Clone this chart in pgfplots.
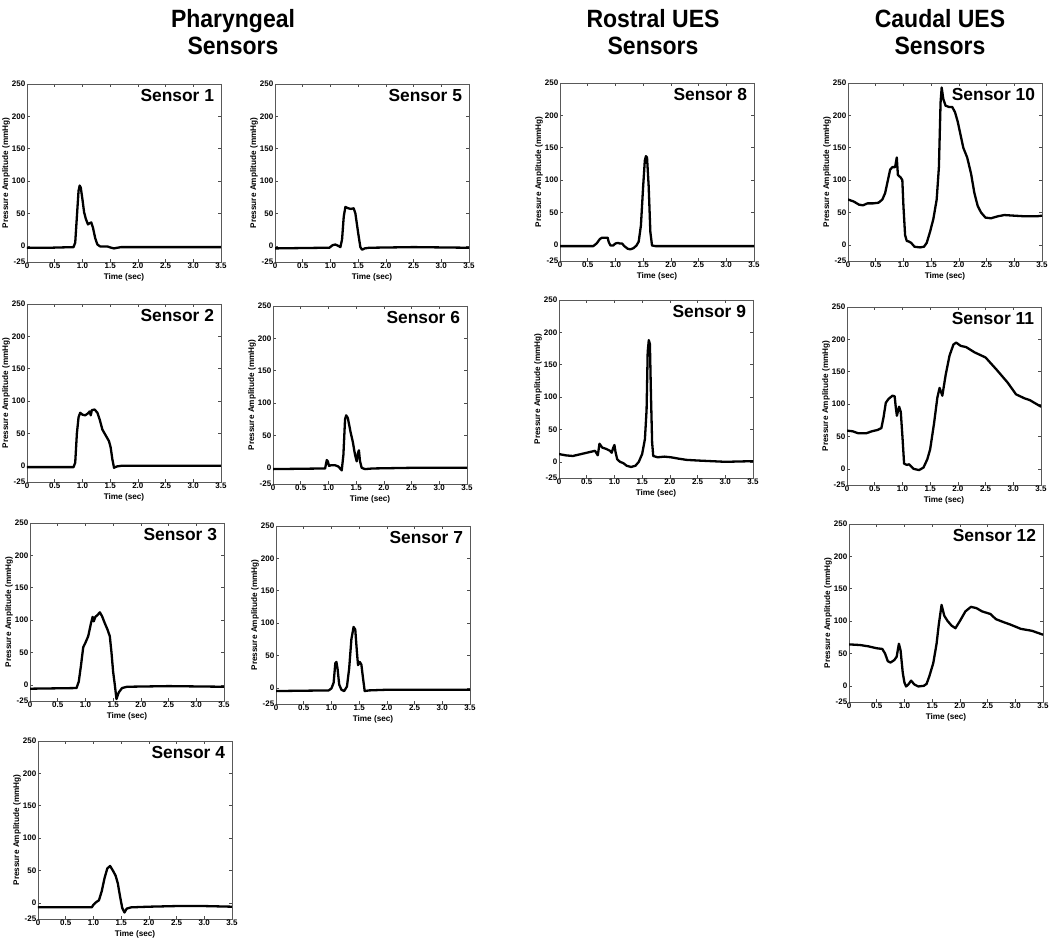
\documentclass[border=0pt]{standalone}
\usepackage{fontspec}
\setmainfont{Liberation Sans}
\newfontfamily\headfam{Liberation Sans}[FakeStretch=0.92]
\usepackage{pgfplots}
\pgfplotsset{compat=1.18}
\newcommand\tickf{\fontsize{8}{9}\selectfont\bfseries}
\newcommand\labf{\fontsize{8.2}{9}\selectfont\bfseries}
\newcommand\headf{\headfam\fontsize{25}{28}\selectfont\bfseries}
\pgfplotsset{sensor/.style={
 scale only axis, width=194pt, height=178pt, anchor=south west,
 xmin=0,xmax=3.5,ymin=-25,ymax=250,
 xtick={0,0.5,1,1.5,2,2.5,3,3.5}, xticklabels={0,0.5,1.0,1.5,2.0,2.5,3.0,3.5},
 ytick={-25,0,50,100,150,200,250}, yticklabels={-25,0,50,100,150,200,250},
 tick align=inside, major tick length=3pt,
 tick style={black!70, line width=0.6pt},
 axis line style={black!65, line width=0.8pt},
 xticklabel style={font=\tickf, inner sep=1pt},
 yticklabel style={font=\tickf, inner sep=1.5pt},
 xlabel={Time (sec)}, ylabel={Pressure Amplitude (mmHg)},
 xlabel style={font=\labf, inner sep=0.5pt, yshift=-3pt},
 ylabel style={font=\labf, inner sep=0.5pt},
},
curve/.style={black, line width=2.3pt, line join=round, line cap=round, mark=none}}
\newcommand\sens[1]{\node[anchor=east, inner sep=0pt, font=\fontsize{17.4}{18}\selectfont\bfseries] at (rel axis cs:0.965,0.933) {#1};}
\begin{document}
\begin{tikzpicture}
\path[use as bounding box] (0,0) rectangle (1050pt,940pt);
% column headings
\node[anchor=base, font=\headf, inner sep=0pt] at (233pt,912pt) {Pharyngeal};
\node[anchor=base, font=\headf, inner sep=0pt] at (233pt,885pt) {Sensors};
\node[anchor=base, font=\headf, inner sep=0pt] at (653pt,912pt) {Rostral UES};
\node[anchor=base, font=\headf, inner sep=0pt] at (653pt,885pt) {Sensors};
\node[anchor=base, font=\headf, inner sep=0pt] at (940pt,912pt) {Caudal UES};
\node[anchor=base, font=\headf, inner sep=0pt] at (940pt,885pt) {Sensors};

% Sensor 1
\begin{axis}[sensor, at={(27pt,678pt)}]
\addplot[curve] coordinates {(0,-3)(0.4,-3)(0.84,-2)(0.87,5)(0.90,45)(0.93,85)(0.95,93)(0.97,90)(1.00,72)(1.03,52)(1.06,42)(1.10,33)(1.13,35)(1.16,36)(1.19,28)(1.23,12)(1.27,2)(1.32,-1)(1.45,-1)(1.52,-3)(1.57,-4)(1.63,-3)(1.70,-2)(2.5,-2)(3.5,-2)};
\sens{Sensor 1}
\end{axis}

% Sensor 5
\begin{axis}[sensor, at={(275pt,678pt)}]
\addplot[curve] coordinates {(0,-4)(0.9,-3)(0.98,-3)(1.04,1)(1.09,2)(1.14,0)(1.18,-2)(1.21,10)(1.24,45)(1.27,60)(1.32,58)(1.37,57)(1.42,58)(1.45,50)(1.50,20)(1.54,-2)(1.57,-6)(1.62,-4)(1.70,-3)(2.5,-2)(3.5,-3)};
\sens{Sensor 5}
\end{axis}

% Sensor 8
\begin{axis}[sensor, at={(560pt,679pt)}]
\addplot[curve] coordinates {(0,-2)(0.6,-2)(0.66,2)(0.72,9)(0.76,11)(0.86,11)(0.88,4)(0.91,-1)(0.96,-1)(1.00,2)(1.04,3)(1.08,2)(1.12,2)(1.16,-2)(1.22,-6)(1.27,-7)(1.33,-5)(1.38,-1)(1.42,5)(1.46,30)(1.50,90)(1.53,130)(1.55,137)(1.57,135)(1.60,90)(1.63,20)(1.66,-1)(1.72,-2)(2.5,-2)(3.5,-2)};
\sens{Sensor 8}
\end{axis}

% Sensor 10
\begin{axis}[sensor, at={(848pt,679pt)}]
\addplot[curve] coordinates {(0,70)(0.1,67)(0.2,62)(0.27,61)(0.35,64)(0.45,64)(0.55,65)(0.62,70)(0.67,80)(0.72,100)(0.76,116)(0.80,120)(0.85,120)(0.88,135)(0.90,108)(0.95,104)(0.98,100)(1.00,60)(1.03,15)(1.06,6)(1.10,5)(1.14,3)(1.20,-3)(1.30,-4)(1.37,-3)(1.42,3)(1.48,20)(1.54,40)(1.60,70)(1.64,120)(1.67,220)(1.69,243)(1.72,225)(1.76,215)(1.82,213)(1.88,213)(1.93,205)(1.98,190)(2.03,170)(2.08,150)(2.15,135)(2.22,110)(2.28,80)(2.34,60)(2.40,50)(2.48,42)(2.58,41)(2.70,44)(2.82,46)(3.00,45)(3.20,44)(3.40,44)(3.5,45)};
\sens{Sensor 10}
\end{axis}

% Sensor 2
\begin{axis}[sensor, at={(27pt,458pt)}]
\addplot[curve] coordinates {(0,-2)(0.84,-2)(0.87,5)(0.90,50)(0.93,75)(0.96,82)(1.00,79)(1.05,78)(1.10,81)(1.13,84)(1.15,78)(1.17,86)(1.22,87)(1.27,82)(1.31,72)(1.36,56)(1.42,47)(1.48,38)(1.51,28)(1.54,10)(1.57,-3)(1.62,-1)(1.70,0)(3.5,0)};
\sens{Sensor 2}
\end{axis}

% Sensor 6
\begin{axis}[sensor, at={(273pt,456pt)}]
\addplot[curve] coordinates {(0,-2)(0.94,-1)(0.97,12)(0.99,10)(1.01,3)(1.05,4)(1.12,4)(1.18,2)(1.24,-4)(1.27,20)(1.30,75)(1.32,81)(1.35,77)(1.40,55)(1.44,40)(1.48,20)(1.51,10)(1.53,22)(1.55,27)(1.57,10)(1.60,0)(1.66,-2)(1.80,-1)(2.5,0)(3.5,0)};
\sens{Sensor 6}
\end{axis}

% Sensor 9
\begin{axis}[sensor, at={(559pt,462pt)}]
\addplot[curve] coordinates {(0,12)(0.12,10)(0.25,9)(0.4,12)(0.55,15)(0.65,17)(0.70,10)(0.73,28)(0.78,22)(0.85,20)(0.92,17)(0.95,14)(0.98,22)(1.00,26)(1.02,15)(1.05,4)(1.10,0)(1.16,-2)(1.22,-6)(1.30,-8)(1.38,-6)(1.44,0)(1.50,12)(1.55,35)(1.58,80)(1.60,170)(1.62,188)(1.64,182)(1.66,100)(1.68,30)(1.70,9)(1.78,7)(1.90,8)(2.02,7)(2.15,5)(2.30,3)(2.5,2)(3.0,0)(3.5,1)};
\sens{Sensor 9}
\end{axis}

% Sensor 11
\begin{axis}[sensor, at={(847pt,455pt)}]
\addplot[curve] coordinates {(0,59)(0.1,58)(0.2,55)(0.35,55)(0.45,58)(0.55,60)(0.62,63)(0.66,80)(0.70,102)(0.75,108)(0.82,113)(0.86,112)(0.88,95)(0.90,82)(0.94,96)(0.97,88)(1.00,50)(1.03,8)(1.08,6)(1.12,7)(1.20,0)(1.30,-2)(1.38,2)(1.45,15)(1.50,30)(1.57,70)(1.63,110)(1.67,125)(1.72,113)(1.78,145)(1.85,175)(1.92,192)(1.97,195)(2.05,190)(2.15,188)(2.30,180)(2.50,172)(2.70,153)(2.90,133)(3.05,115)(3.20,109)(3.30,106)(3.5,96)};
\sens{Sensor 11}
\end{axis}

% Sensor 3
\begin{axis}[sensor, at={(30pt,239pt)}]
\addplot[curve] coordinates {(0,-6)(0.84,-5)(0.88,5)(0.92,30)(0.96,58)(1.00,65)(1.05,75)(1.10,95)(1.13,105)(1.15,98)(1.18,105)(1.22,108)(1.26,112)(1.30,106)(1.35,95)(1.40,85)(1.44,75)(1.47,50)(1.50,20)(1.53,0)(1.56,-22)(1.60,-12)(1.66,-5)(1.75,-3)(2.5,-2)(3.5,-3)};
\sens{Sensor 3}
\end{axis}

% Sensor 7
\begin{axis}[sensor, at={(276pt,236pt)}]
\addplot[curve] coordinates {(0,-5)(0.95,-4)(1.00,-1)(1.04,8)(1.07,38)(1.09,40)(1.11,30)(1.14,5)(1.18,-3)(1.23,-5)(1.28,2)(1.32,30)(1.36,75)(1.40,94)(1.43,90)(1.46,55)(1.48,35)(1.51,40)(1.54,36)(1.57,15)(1.60,-5)(1.68,-4)(2.0,-3)(3.5,-3)};
\sens{Sensor 7}
\end{axis}

% Sensor 12
\begin{axis}[sensor, at={(849pt,238pt)}]
\addplot[curve] coordinates {(0,64)(0.2,63)(0.35,61)(0.5,58)(0.6,57)(0.65,50)(0.70,38)(0.75,36)(0.82,40)(0.86,45)(0.90,65)(0.93,55)(0.97,20)(1.00,5)(1.03,-1)(1.07,2)(1.12,8)(1.18,2)(1.25,-1)(1.35,0)(1.40,3)(1.45,15)(1.52,35)(1.58,65)(1.62,95)(1.67,125)(1.72,108)(1.78,100)(1.85,93)(1.92,89)(2.00,100)(2.10,115)(2.20,122)(2.30,120)(2.40,115)(2.55,111)(2.65,103)(2.80,98)(2.90,95)(3.10,88)(3.30,85)(3.5,79)};
\sens{Sensor 12}
\end{axis}

% Sensor 4
\begin{axis}[sensor, at={(38pt,21pt)}]
\addplot[curve] coordinates {(0,-7)(0.97,-7)(1.00,-3)(1.05,1)(1.10,4)(1.15,18)(1.20,38)(1.25,53)(1.30,57)(1.35,50)(1.40,42)(1.44,30)(1.48,10)(1.52,-8)(1.56,-15)(1.60,-9)(1.68,-7)(2.0,-6)(2.5,-5)(3.0,-5)(3.5,-6)};
\sens{Sensor 4}
\end{axis}
\end{tikzpicture}
\end{document}
